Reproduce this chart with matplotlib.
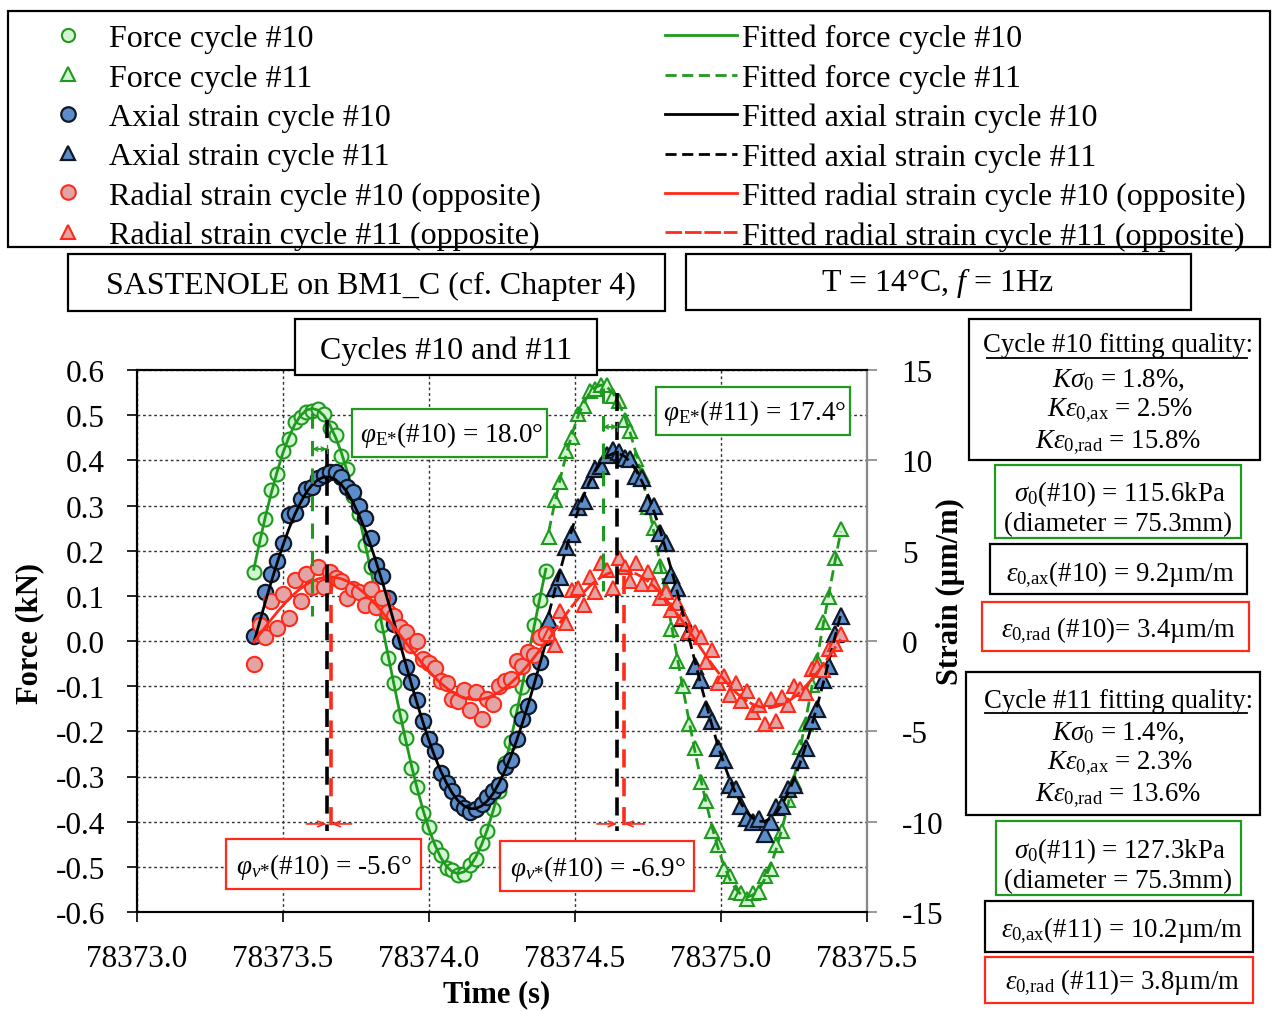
import numpy as np
import matplotlib
matplotlib.use("Agg")
import matplotlib.pyplot as plt
from matplotlib.lines import Line2D
from matplotlib.patches import Rectangle

plt.rcParams['font.family'] = ['Liberation Serif', 'DejaVu Serif']
plt.rcParams['mathtext.fontset'] = 'custom'
plt.rcParams['mathtext.rm'] = 'Liberation Serif'
plt.rcParams['mathtext.it'] = 'Liberation Serif:italic'
plt.rcParams['axes.unicode_minus'] = False

W, H = 1273, 1012

# time stamps (s), 50 Hz acquisition
t10 = np.round(78373.40 + 0.02 * np.arange(51), 2)
t11 = np.round(78374.41 + 0.02 * np.arange(51), 2)

# cycle #10 : force (kN), axial and radial strain (um/m)
force10 = [0.152, 0.226, 0.270, 0.334, 0.369, 0.421, 0.447, 0.484, 0.496, 0.507,
           0.509, 0.514, 0.503, 0.472, 0.455, 0.410, 0.380, 0.322, 0.281, 0.213,
           0.163, 0.090, 0.036, -0.038, -0.092, -0.165, -0.214, -0.281, -0.323, -0.380,
           -0.412, -0.456, -0.474, -0.503, -0.508, -0.519, -0.515, -0.496, -0.483, -0.447,
           -0.421, -0.371, -0.333, -0.271, -0.224, -0.154, -0.101, -0.027, 0.036, 0.091, 0.155]
force10_fit = [0.159, 0.219, 0.276, 0.328, 0.375, 0.417, 0.451, 0.479, 0.499, 0.511,
               0.515, 0.511, 0.499, 0.479, 0.451, 0.417, 0.375, 0.328, 0.276, 0.219,
               0.159, 0.096, 0.032, -0.032, -0.096, -0.159, -0.219, -0.276, -0.328, -0.375,
               -0.417, -0.451, -0.479, -0.499, -0.511, -0.515, -0.511, -0.499, -0.479, -0.451,
               -0.417, -0.375, -0.328, -0.276, -0.219, -0.159, -0.096, -0.032, 0.032, 0.096, 0.159]
axial10 = [0.30, 1.15, 2.69, 3.69, 4.43, 5.41, 7.00, 7.09, 7.86, 8.43,
           8.55, 9.03, 9.18, 9.38, 9.33, 9.05, 8.53, 8.26, 7.49, 6.80,
           5.71, 4.23, 3.59, 2.39, 0.95, 0.00, -1.45, -2.29, -3.29, -4.43,
           -5.41, -6.10, -7.29, -7.86, -8.33, -8.95, -9.23, -9.48, -9.28, -9.03,
           -8.65, -8.33, -7.96, -6.99, -6.60, -5.41, -4.33, -3.59, -2.19, -1.15, 0.20]
axial10_fit = [-0.10, 1.05, 2.19, 3.29, 4.33, 5.31, 6.20, 6.99, 7.66, 8.23,
               8.65, 8.93, 9.08, 9.08, 8.93, 8.65, 8.23, 7.66, 6.99, 6.20,
               5.31, 4.33, 3.29, 2.19, 1.05, -0.10, -1.25, -2.39, -3.49, -4.53,
               -5.51, -6.40, -7.19, -7.86, -8.43, -8.85, -9.13, -9.28, -9.28, -9.13,
               -8.85, -8.43, -7.86, -7.19, -6.40, -5.51, -4.53, -3.49, -2.39, -1.25, -0.10]
radial10 = [-1.26, 0.86, 0.20, 2.20, 0.70, 2.60, 1.30, 3.40, 2.20, 3.70,
            3.00, 4.10, 3.00, 3.80, 3.50, 3.30, 2.40, 2.90, 2.70, 2.00,
            2.90, 1.90, 2.40, 1.60, 1.40, 0.80, 0.50, -0.20, 0.00, -1.00,
            -1.20, -1.50, -2.20, -2.30, -3.20, -3.30, -2.70, -3.80, -2.80, -4.30,
            -3.20, -3.50, -2.50, -2.20, -2.10, -1.10, -1.40, -0.60, -0.80, 0.20, 0.40]
radial10_fit = [-0.06, 0.36, 0.79, 1.20, 1.60, 1.97, 2.32, 2.63, 2.90, 3.13,
                3.31, 3.44, 3.52, 3.55, 3.52, 3.44, 3.31, 3.13, 2.90, 2.63,
                2.32, 1.97, 1.60, 1.20, 0.79, 0.36, -0.06, -0.49, -0.90, -1.30,
                -1.67, -2.02, -2.33, -2.60, -2.83, -3.01, -3.14, -3.22, -3.25, -3.22,
                -3.14, -3.01, -2.83, -2.60, -2.33, -2.02, -1.67, -1.30, -0.90, -0.49, -0.06]

# cycle #11
force11 = [0.230, 0.312, 0.352, 0.420, 0.451, 0.503, 0.521, 0.553, 0.557, 0.566,
           0.567, 0.543, 0.532, 0.489, 0.466, 0.404, 0.368, 0.296, 0.250, 0.166,
           0.113, 0.027, -0.045, -0.099, -0.184, -0.236, -0.312, -0.354, -0.421, -0.452,
           -0.505, -0.521, -0.556, -0.558, -0.572, -0.557, -0.555, -0.520, -0.505, -0.452,
           -0.421, -0.353, -0.312, -0.235, -0.183, -0.098, -0.045, 0.043, 0.098, 0.183, 0.248]
force11_fit = [0.242, 0.304, 0.361, 0.413, 0.459, 0.497, 0.527, 0.549, 0.562, 0.567,
               0.562, 0.549, 0.527, 0.497, 0.459, 0.413, 0.361, 0.304, 0.242, 0.175,
               0.106, 0.036, -0.036, -0.106, -0.175, -0.242, -0.304, -0.361, -0.413, -0.459,
               -0.497, -0.527, -0.549, -0.562, -0.567, -0.562, -0.549, -0.527, -0.497, -0.459,
               -0.413, -0.361, -0.304, -0.242, -0.175, -0.106, -0.036, 0.036, 0.106, 0.175, 0.242]
axial11 = [1.18, 2.94, 3.55, 5.22, 5.90, 7.39, 7.76, 8.91, 9.53, 9.70,
           10.32, 10.58, 10.48, 10.12, 10.10, 9.13, 9.01, 7.66, 7.49, 6.00,
           5.42, 3.65, 2.94, 1.28, 0.50, -1.38, -2.14, -3.75, -4.42, -5.90,
           -6.59, -7.96, -8.21, -9.13, -9.80, -10.02, -9.88, -10.70, -10.02, -9.20,
           -9.13, -8.21, -7.96, -6.59, -5.90, -4.42, -3.75, -2.14, -1.38, 0.40, 1.38]
axial11_fit = [1.48, 2.74, 3.95, 5.12, 6.20, 7.19, 8.06, 8.81, 9.43, 9.90,
               10.22, 10.38, 10.38, 10.22, 9.90, 9.43, 8.81, 8.06, 7.19, 6.20,
               5.12, 3.95, 2.74, 1.48, 0.20, -1.08, -2.34, -3.55, -4.72, -5.80,
               -6.79, -7.66, -8.41, -9.03, -9.50, -9.82, -9.98, -9.98, -9.82, -9.50,
               -9.03, -8.41, -7.66, -6.79, -5.80, -4.72, -3.55, -2.34, -1.08, 0.20, 1.48]
radial11 = [0.40, -0.22, 1.65, 1.00, 2.83, 2.93, 2.00, 3.53, 2.71, 4.34,
            3.91, 2.93, 4.59, 4.09, 3.33, 4.31, 3.14, 3.81, 3.13, 2.40,
            2.73, 1.73, 2.10, 1.35, 0.48, 0.50, 0.22, -1.15, -0.50, -2.33,
            -1.93, -3.00, -2.33, -3.31, -2.74, -3.91, -3.53, -4.59, -3.19, -4.43,
            -3.11, -3.54, -2.51, -2.63, -2.90, -1.53, -1.43, -1.60, -0.45, -0.18, 0.40]
radial11_fit = [0.10, 0.58, 1.05, 1.50, 1.93, 2.33, 2.70, 3.03, 3.31, 3.54,
                3.71, 3.83, 3.89, 3.89, 3.83, 3.71, 3.54, 3.31, 3.03, 2.70,
                2.33, 1.93, 1.50, 1.05, 0.58, 0.10, -0.38, -0.85, -1.30, -1.73,
                -2.13, -2.50, -2.83, -3.11, -3.34, -3.51, -3.63, -3.69, -3.69, -3.63,
                -3.51, -3.34, -3.11, -2.83, -2.50, -2.13, -1.73, -1.30, -0.85, -0.38, 0.10]

# peak times used for the phase-lag markers (force, axial, radial)
peaks10 = [78373.600, 78373.650, 78373.665]
peaks11 = [78374.595, 78374.645, 78374.668]

x_ticks = [78373.0, 78373.5, 78374.0, 78374.5, 78375.0, 78375.5]
force_ticks = [0.6, 0.5, 0.4, 0.3, 0.2, 0.1, 0.0, -0.1, -0.2, -0.3, -0.4, -0.5, -0.6]
strain_ticks = [15, 10, 5, 0, -5, -10, -15]

GREEN = '#1e9a1e'
GREEN_FACE = '#d2f5d2'
BLUE_FACE = '#5b8dcb'
BLUE_EDGE = '#101828'
RED = '#ff2a1a'
RED_FACE = '#e2a4a4'

fig = plt.figure(figsize=(W / 100, H / 100), dpi=100)
ax = fig.add_axes([137 / W, 1 - 913 / H, 730 / W, 542 / H])
ax2 = ax.twinx()

# force (left axis)
h_f10, = ax.plot(t10, force10, 'o', ms=10, mfc=GREEN_FACE, mec=GREEN, mew=1.5, ls='none',
                 label='Force cycle #10')
h_f11, = ax.plot(t11, force11, '^', ms=10, mfc=GREEN_FACE, mec=GREEN, mew=1.5, ls='none',
                 label='Force cycle #11')
l_f10, = ax.plot(t10, force10_fit, '-', color=GREEN, lw=2, label='Fitted force cycle #10')
l_f11, = ax.plot(t11, force11_fit, '--', color=GREEN, lw=2, dashes=(4, 2),
                 label='Fitted force cycle #11')

# strain (right axis)
h_a10, = ax2.plot(t10, axial10, 'o', ms=11, mfc=BLUE_FACE, mec=BLUE_EDGE, mew=1.6, ls='none',
                  label='Axial strain cycle #10')
h_a11, = ax2.plot(t11, axial11, '^', ms=11, mfc=BLUE_FACE, mec=BLUE_EDGE, mew=1.6, ls='none',
                  label='Axial strain cycle #11')
h_r10, = ax2.plot(t10, radial10, 'o', ms=11, mfc=RED_FACE, mec=RED, mew=1.5, ls='none',
                  label='Radial strain cycle #10 (opposite)')
h_r11, = ax2.plot(t11, radial11, '^', ms=10, mfc=RED_FACE, mec=RED, mew=1.5, ls='none',
                  label='Radial strain cycle #11 (opposite)')
l_a10, = ax2.plot(t10, axial10_fit, '-', color='black', lw=2, label='Fitted axial strain cycle #10')
l_a11, = ax2.plot(t11, axial11_fit, '--', color='black', lw=2, dashes=(4, 2),
                  label='Fitted axial strain cycle #11')
l_r10, = ax2.plot(t10, radial10_fit, '-', color=RED, lw=2,
                  label='Fitted radial strain cycle #10 (opposite)')
l_r11, = ax2.plot(t11, radial11_fit, '--', color=RED, lw=2, dashes=(6, 1),
                  label='Fitted radial strain cycle #11 (opposite)')

# phase-lag markers (in force units)
tr = ax.transData
for pk, top_f, bot_f, top_a, arr_g in [(peaks10, 0.505, 0.055, 0.49, 0.425),
                                       (peaks11, 0.56, 0.11, 0.55, 0.474)]:
    ax2.plot([pk[0], pk[0]], [top_f, bot_f], color=GREEN, lw=2.2, dashes=(5, 4), transform=tr)
    ax2.plot([pk[1], pk[1]], [top_a, -0.42], color='black', lw=2.6, dashes=(5, 3), transform=tr)
    ax2.plot([pk[2], pk[2]], [0.145, -0.42], color=RED, lw=2.6, dashes=(5, 3), transform=tr)
    ax2.annotate('', xy=(pk[0], arr_g), xytext=(pk[1], arr_g), xycoords=tr, textcoords=tr,
                 arrowprops=dict(arrowstyle='|-|,widthA=0.3,widthB=0.3', color=GREEN, lw=1.0,
                                 shrinkA=0, shrinkB=0))
    ax2.annotate('', xy=(pk[0], arr_g), xytext=(pk[1], arr_g), xycoords=tr, textcoords=tr,
                 arrowprops=dict(arrowstyle='<->,head_length=0.3,head_width=0.15', color=GREEN,
                                 lw=1.0, shrinkA=0, shrinkB=0))
    ax2.annotate('', xy=(pk[1], -0.405), xytext=(pk[1] - 0.07, -0.405), xycoords=tr, textcoords=tr,
                 arrowprops=dict(arrowstyle='->,head_length=0.5,head_width=0.2', color=RED,
                                 lw=1.2, shrinkA=0, shrinkB=0))
    ax2.annotate('', xy=(pk[2], -0.405), xytext=(pk[2] + 0.07, -0.405), xycoords=tr, textcoords=tr,
                 arrowprops=dict(arrowstyle='->,head_length=0.5,head_width=0.2', color=RED,
                                 lw=1.2, shrinkA=0, shrinkB=0))

ax.set_xlim(78373.0, 78375.5)
ax.set_ylim(-0.6, 0.6)
ax2.set_ylim(-15, 15)
ax.set_xticks(x_ticks)
ax.set_xticklabels([f'{v:.1f}' for v in x_ticks])
ax.set_yticks(force_ticks)
ax.set_yticklabels([f'{v:.1f}' for v in force_ticks])
ax2.set_yticks(strain_ticks)
ax2.set_yticklabels([str(v) for v in strain_ticks])
ax.grid(True, color='#333333', lw=1.0, ls=(0, (2, 2)))
ax.tick_params(axis='both', direction='out', length=7, width=1.2, labelsize=22.5)
ax.tick_params(axis='x', pad=16)
ax.tick_params(axis='y', pad=16)
ax2.tick_params(axis='y', direction='out', length=7, width=1.2, labelsize=22.5, pad=18,
                color='#888888')
for a in (ax, ax2):
    for s in a.spines.values():
        s.set_linewidth(1.5)
ax2.spines['right'].set_color('#888888')

fig.text(30 / W, 1 - 633 / H, 'Force (kN)', rotation=90, ha='center', va='center',
         fontsize=22, fontweight='bold')
fig.text(950 / W, 1 - 592 / H, 'Strain (µm/m)', rotation=90, ha='center', va='center',
         fontsize=22, fontweight='bold')
fig.text(497 / W, 1 - 995 / H, 'Time (s)', ha='center', va='center', fontsize=22,
         fontweight='bold')


def box(x0, y0, x1, y1, color='black', lw=1.6):
    fig.add_artist(Rectangle((x0 / W, 1 - y1 / H), (x1 - x0) / W, (y1 - y0) / H,
                             transform=fig.transFigure, facecolor='white', edgecolor=color,
                             lw=lw, zorder=5))


def label(x, y, s, size=19.3):
    fig.text(x / W, 1 - y / H, s, ha='center', va='center', fontsize=size, zorder=6)


def underline(x0, x1, y):
    fig.add_artist(Line2D([x0 / W, x1 / W], [1 - y / H, 1 - y / H], transform=fig.transFigure,
                          color='black', lw=1.3, zorder=6))


# legend frame + two legend columns
fig.add_artist(Rectangle((8 / W, 1 - 248 / H), 1262 / W, 236 / H, transform=fig.transFigure,
                         facecolor='white', edgecolor='black', lw=1.6, zorder=1))
leg_kw = dict(loc='upper left', frameon=False, fontsize=23, borderpad=0, borderaxespad=0,
              labelspacing=0.31)
fig.legend(handles=[h_f10, h_f11, h_a10, h_a11, h_r10, h_r11], bbox_to_anchor=(48 / W, 1 - 25 / H),
           handlelength=1.25, handletextpad=0.65, markerscale=0.95, **leg_kw)
fig.legend(handles=[l_f10, l_f11, l_a10, l_a11, l_r10, l_r11], bbox_to_anchor=(665 / W, 1 - 25 / H),
           handlelength=2.25, handletextpad=0.15, **leg_kw)

box(68, 255, 665, 312)
label(371, 286, 'SASTENOLE on BM1_C (cf. Chapter 4)', 23)
box(686, 255, 1191, 311)
label(938, 283, r'T = 14°C, $f$ = 1Hz', 23)
box(295, 320, 597, 376)
label(446, 351, 'Cycles #10 and #11', 23)

box(352, 410, 547, 458, GREEN)
label(452, 435, r'$\varphi_{\mathrm{E}{*}}$(#10) = 18.0°', 19.5)
box(656, 388, 850, 436, GREEN)
label(755, 413, r'$\varphi_{\mathrm{E}{*}}$(#11) = 17.4°', 19.5)
box(226, 840, 421, 890, RED)
label(324, 867, r'$\varphi_{\nu{*}}$(#10) = -5.6°', 19.5)
box(500, 842, 694, 892, RED)
label(598, 869, r'$\varphi_{\nu{*}}$(#10) = -6.9°', 19.5)

AX = r'_{0{,}\mathrm{ax}}'
RAD = r'_{0{,}\mathrm{rad}}'

# fitting quality, cycle #10
box(969, 320, 1260, 461)
label(1118, 346, 'Cycle #10 fitting quality:')
underline(987, 1247, 359)
label(1118, 380, r'$K\sigma_0$ = 1.8%,')
label(1120, 411, r'$K\varepsilon' + AX + r'$ = 2.5%')
label(1118, 443, r'$K\varepsilon' + RAD + r'$ = 15.8%')
box(995, 466, 1241, 539, GREEN)
label(1120, 494, r'$\sigma_0$(#10) = 115.6kPa')
label(1118, 525, '(diameter = 75.3mm)')
box(990, 545, 1247, 595)
label(1120, 575, r'$\varepsilon' + AX + r'$(#10) = 9.2µm/m')
box(982, 603, 1249, 652, RED)
label(1118, 631, r'$\varepsilon' + RAD + r'$ (#10)= 3.4µm/m')

# fitting quality, cycle #11
box(966, 673, 1260, 816)
label(1118, 701, 'Cycle #11 fitting quality:')
underline(985, 1247, 714)
label(1118, 733, r'$K\sigma_0$ = 1.4%,')
label(1120, 764, r'$K\varepsilon' + AX + r'$ = 2.3%')
label(1118, 796, r'$K\varepsilon' + RAD + r'$ = 13.6%')
box(996, 822, 1241, 896, GREEN)
label(1120, 851, r'$\sigma_0$(#11) = 127.3kPa')
label(1118, 882, '(diameter = 75.3mm)')
box(985, 902, 1253, 953)
label(1122, 931, r'$\varepsilon' + AX + r'$(#11) = 10.2µm/m')
box(985, 958, 1253, 1004, RED)
label(1122, 983, r'$\varepsilon' + RAD + r'$ (#11)= 3.8µm/m')

fig.savefig('out.png', dpi=100)
